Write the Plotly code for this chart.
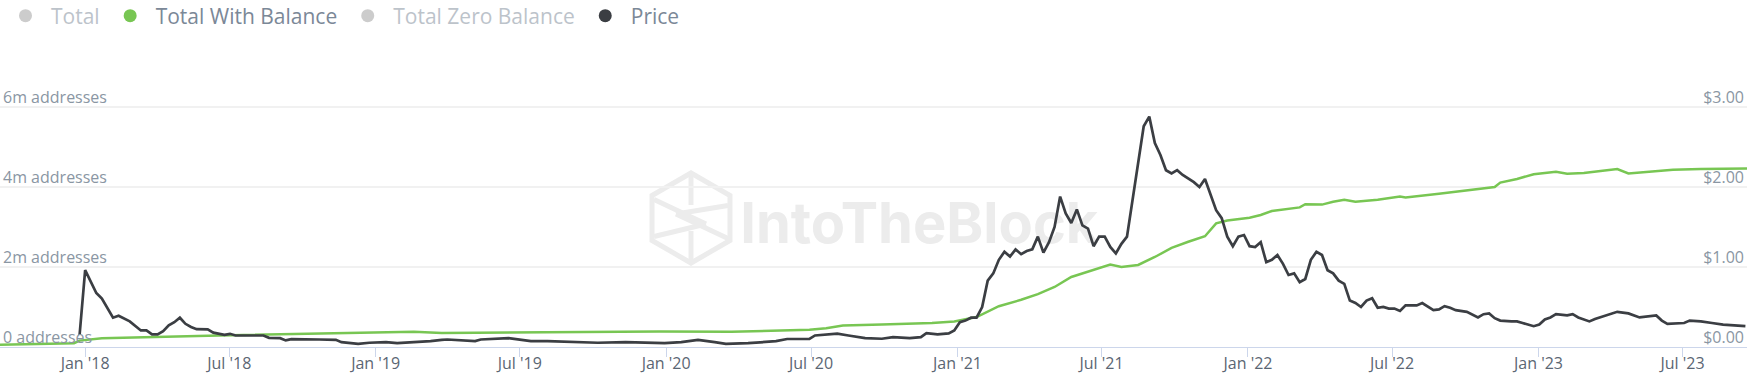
import math
import plotly.graph_objects as go

# ---------------- data ----------------
price_dates = [
    "2017-12-25", "2018-01-01", "2018-01-15", "2018-01-22", "2018-02-05", "2018-02-12", "2018-02-26",
    "2018-03-12", "2018-03-19", "2018-03-26", "2018-04-02", "2018-04-09", "2018-04-16", "2018-04-23",
    "2018-04-30", "2018-05-07", "2018-05-14", "2018-05-21", "2018-06-04", "2018-06-11", "2018-06-25",
    "2018-07-02", "2018-07-09", "2018-08-13", "2018-08-20", "2018-09-03", "2018-09-10", "2018-09-17",
    "2018-10-22", "2018-11-12", "2018-11-19", "2018-12-10", "2018-12-24", "2019-01-14", "2019-01-28",
    "2019-02-18", "2019-03-11", "2019-03-25", "2019-04-01", "2019-05-06", "2019-05-13", "2019-06-17",
    "2019-07-15", "2019-08-05", "2019-09-09", "2019-10-07", "2019-11-11", "2019-12-30", "2020-01-20",
    "2020-02-10", "2020-03-02", "2020-03-16", "2020-04-13", "2020-04-27", "2020-05-18", "2020-06-01",
    "2020-06-29", "2020-07-06", "2020-08-03", "2020-08-17", "2020-09-07", "2020-09-28", "2020-10-12",
    "2020-11-02", "2020-11-16", "2020-11-23", "2020-12-07", "2020-12-21", "2020-12-28", "2021-01-04",
    "2021-01-11", "2021-01-18", "2021-01-25", "2021-02-01", "2021-02-08", "2021-02-15", "2021-02-22",
    "2021-03-01", "2021-03-08", "2021-03-15", "2021-03-22", "2021-03-29", "2021-04-05", "2021-04-12",
    "2021-04-19", "2021-04-26", "2021-05-03", "2021-05-10", "2021-05-17", "2021-05-24", "2021-05-31",
    "2021-06-07", "2021-06-14", "2021-06-21", "2021-06-28", "2021-07-05", "2021-07-12", "2021-07-19",
    "2021-07-26", "2021-08-02", "2021-08-23", "2021-08-30", "2021-09-06", "2021-09-13", "2021-09-20",
    "2021-09-27", "2021-10-04", "2021-10-11", "2021-10-25", "2021-11-01", "2021-11-08", "2021-11-22",
    "2021-11-29", "2021-12-06", "2021-12-13", "2021-12-20", "2021-12-27", "2022-01-03", "2022-01-10",
    "2022-01-17", "2022-01-24", "2022-01-31", "2022-02-07", "2022-02-14", "2022-02-21", "2022-02-28",
    "2022-03-07", "2022-03-14", "2022-03-21", "2022-03-28", "2022-04-04", "2022-04-11", "2022-04-18",
    "2022-04-25", "2022-05-02", "2022-05-09", "2022-05-16", "2022-05-23", "2022-05-30", "2022-06-06",
    "2022-06-13", "2022-06-20", "2022-06-27", "2022-07-04", "2022-07-11", "2022-07-18", "2022-08-01",
    "2022-08-08", "2022-08-15", "2022-08-22", "2022-08-29", "2022-09-05", "2022-09-12", "2022-09-19",
    "2022-10-03", "2022-10-10", "2022-10-17", "2022-10-24", "2022-10-31", "2022-11-07", "2022-11-14",
    "2022-11-28", "2022-12-05", "2022-12-12", "2022-12-26", "2023-01-02", "2023-01-09", "2023-01-16",
    "2023-01-23", "2023-02-06", "2023-02-13", "2023-02-20", "2023-03-06", "2023-03-13", "2023-03-27",
    "2023-04-10", "2023-04-24", "2023-05-01", "2023-05-08", "2023-05-29", "2023-06-05", "2023-06-12",
    "2023-07-03", "2023-07-10", "2023-07-24", "2023-08-07", "2023-08-21", "2023-09-04", "2023-09-18",
]
price_values = [
    0.15, 0.96, 0.675, 0.605, 0.366, 0.39, 0.32,
    0.207, 0.207, 0.157, 0.157, 0.198, 0.27, 0.31,
    0.366, 0.29, 0.25, 0.223, 0.22, 0.18, 0.153,
    0.165, 0.144, 0.144, 0.115, 0.11, 0.082, 0.098,
    0.094, 0.09, 0.06, 0.04, 0.053, 0.06, 0.048,
    0.06, 0.073, 0.09, 0.094, 0.073, 0.094, 0.11,
    0.073, 0.073, 0.06, 0.053, 0.06, 0.048, 0.06,
    0.09, 0.06, 0.04, 0.048, 0.06, 0.073, 0.10,
    0.10, 0.144, 0.166, 0.144, 0.11, 0.103, 0.123,
    0.11, 0.123, 0.173, 0.157, 0.17, 0.207, 0.31,
    0.33, 0.366, 0.366, 0.50, 0.83, 0.92, 1.09,
    1.19, 1.13, 1.22, 1.16, 1.20, 1.22, 1.38,
    1.18, 1.31, 1.50, 1.88, 1.67, 1.55, 1.72,
    1.52, 1.48, 1.26, 1.38, 1.38, 1.25, 1.17,
    1.29, 1.38, 2.76, 2.88, 2.55, 2.40, 2.21,
    2.17, 2.21, 2.15, 2.06, 2.00, 2.10, 1.71,
    1.61, 1.38, 1.26, 1.38, 1.40, 1.26, 1.25,
    1.31, 1.06, 1.09, 1.15, 1.04, 0.90, 0.92,
    0.81, 0.85, 1.09, 1.19, 1.15, 0.96, 0.92,
    0.83, 0.79, 0.58, 0.55, 0.50, 0.58, 0.61,
    0.49, 0.50, 0.48, 0.48, 0.45, 0.52, 0.52,
    0.55, 0.51, 0.46, 0.47, 0.51, 0.49, 0.46,
    0.44, 0.41, 0.37, 0.41, 0.42, 0.36, 0.33,
    0.32, 0.32, 0.30, 0.26, 0.28, 0.345, 0.37,
    0.41, 0.395, 0.41, 0.37, 0.32, 0.35, 0.395,
    0.44, 0.42, 0.395, 0.37, 0.395, 0.33, 0.29,
    0.30, 0.33, 0.32, 0.30, 0.28, 0.27, 0.26,
]

balance_dates = [
    "2017-09-16", "2017-12-18", "2017-12-25", "2018-01-22", "2018-06-18", "2018-11-05", "2019-02-18",
    "2019-03-25", "2019-12-23", "2020-03-23", "2020-06-29", "2020-07-20", "2020-08-10", "2020-09-28",
    "2020-11-30", "2020-12-28", "2021-01-11", "2021-01-25", "2021-02-22", "2021-03-22", "2021-04-12",
    "2021-05-03", "2021-05-24", "2021-06-14", "2021-07-12", "2021-07-26", "2021-08-16", "2021-09-06",
    "2021-09-27", "2021-10-18", "2021-11-08", "2021-11-22", "2021-12-06", "2022-01-03", "2022-01-17",
    "2022-01-31", "2022-03-07", "2022-03-14", "2022-04-04", "2022-04-18", "2022-05-02", "2022-05-16",
    "2022-06-13", "2022-07-11", "2022-07-18", "2022-08-29", "2022-09-26", "2022-11-07", "2022-11-14",
    "2022-12-05", "2022-12-26", "2023-01-23", "2023-02-06", "2023-02-27", "2023-03-20", "2023-04-10",
    "2023-04-24", "2023-05-22", "2023-06-19", "2023-07-24", "2023-09-20",
]
balance_values_m = [
    0.055, 0.095, 0.16, 0.22, 0.29, 0.35, 0.38,
    0.35, 0.39, 0.38, 0.43, 0.47, 0.54, 0.56,
    0.60, 0.64, 0.69, 0.75, 1.02, 1.18, 1.32,
    1.50, 1.75, 1.88, 2.06, 2.00, 2.05, 2.25,
    2.48, 2.63, 2.77, 3.09, 3.16, 3.23, 3.30,
    3.40, 3.49, 3.57, 3.56, 3.63, 3.68, 3.63,
    3.68, 3.76, 3.74, 3.83, 3.90, 4.00, 4.11,
    4.20, 4.32, 4.38, 4.33, 4.35, 4.40, 4.45,
    4.34, 4.38, 4.43, 4.45, 4.46,
]

legend_names = ["Total", "Total With Balance", "Total Zero Balance", "Price"]
left_tick_values = [0, 2, 4, 6]
left_tick_labels = ["0 addresses", "2m addresses", "4m addresses", "6m addresses"]
right_tick_values = [0, 1, 2, 3]
right_tick_labels = ["$0.00", "$1.00", "$2.00", "$3.00"]
x_tick_values = ["2018-01-01", "2018-07-01", "2019-01-01", "2019-07-01", "2020-01-01", "2020-07-01",
                 "2021-01-01", "2021-07-01", "2022-01-01", "2022-07-01", "2023-01-01", "2023-07-01"]
x_tick_labels = ["Jan '18", "Jul '18", "Jan '19", "Jul '19", "Jan '20", "Jul '20",
                 "Jan '21", "Jul '21", "Jan '22", "Jul '22", "Jan '23", "Jul '23"]
watermark_text = "IntoTheBlock"

# ---------------- styling ----------------
W, H = 1749, 376
ML, MR, MT, MB = 0, 2, 70, 29
PX_PER_M = 40.0
Y_MAX = (H - MT - MB) / PX_PER_M
Y2_MAX = Y_MAX / 2
GREEN = "#78c653"
DARK = "#3b3e43"
FONT = "Open Sans"
X_START, X_END = "2017-09-16", "2023-09-20"
WM = "#ececec"

pw = W - ML - MR
ph = H - MT - MB


def px(x):
    return (x - ML) / pw


def py(y):
    return (H - MB - y) / ph


fig = go.Figure()

# watermark text (drawn first, beneath the data lines)
fig.add_trace(go.Scatter(
    x=["2020-11-14"], y=[2.96], mode="text", text=[watermark_text],
    textfont=dict(family="Inter", size=56, color=WM, weight="bold"),
    hoverinfo="skip", showlegend=False, yaxis="y",
))

fig.add_trace(go.Scatter(
    x=balance_dates, y=balance_values_m, mode="lines", name=legend_names[1],
    line=dict(color=GREEN, width=2.5), showlegend=False, legendgroup="twb", yaxis="y",
))
fig.add_trace(go.Scatter(
    x=price_dates, y=price_values, mode="lines", name=legend_names[3],
    line=dict(color=DARK, width=2.7), showlegend=False, legendgroup="price", yaxis="y2",
))

legend_colors = ["#9a9a9a", GREEN, "#9a9a9a", DARK]
legend_visible = ["legendonly", True, "legendonly", True]
groups = ["total", "twb", "tzb", "price"]
for name, col, vis, g in zip(legend_names, legend_colors, legend_visible, groups):
    fig.add_trace(go.Scatter(
        x=[None], y=[None], mode="markers", name=name, visible=vis, legendgroup=g,
        marker=dict(size=13, color=col, symbol="circle"), yaxis="y",
    ))

# watermark logo (hexagon cube outline)
cx, cy, R = 691, 218, 45
pts = [(cx + R * math.cos(math.radians(a)), cy + R * math.sin(math.radians(a)))
       for a in (-90, -30, 30, 90, 150, 210)]
path = "M " + " L ".join(f"{px(x):.5f},{py(y):.5f}" for x, y in pts) + " Z"
shapes = [dict(type="path", xref="paper", yref="paper", path=path,
               line=dict(color=WM, width=5), layer="below")]
inner = [((pts[5][0] + 2, pts[5][1] + 4), (cx + 15, cy + 6)),
         ((cx + 15, cy + 6), (pts[4][0] + 2, pts[4][1] - 4)),
         ((pts[1][0] - 2, pts[1][1] + 10), (cx - 15, cy - 4)),
         ((cx - 15, cy - 4), (pts[2][0] - 2, pts[2][1] - 2)),
         ((cx, cy - R), (cx, cy - 13)),
         ((cx, cy + 13), (cx, cy + R))]
for (x0, y0), (x1, y1) in inner:
    shapes.append(dict(type="line", xref="paper", yref="paper",
                       x0=px(x0), y0=py(y0), x1=px(x1), y1=py(y1),
                       line=dict(color=WM, width=5), layer="below"))

fig.update_layout(
    width=W, height=H,
    margin=dict(l=ML, r=MR, t=MT, b=MB, pad=0, autoexpand=False),
    paper_bgcolor="white", plot_bgcolor="white",
    font=dict(family=FONT, color="#8a96a3"),
    showlegend=True,
    legend=dict(
        orientation="h", xref="container", yref="container",
        x=0, y=1 - 16 / H, xanchor="left", yanchor="middle",
        itemwidth=41,
        font=dict(family=FONT, size=21, color="#7b8897"),
        itemclick=False, itemdoubleclick=False,
    ),
    shapes=shapes,
    xaxis=dict(
        type="date", range=[X_START, X_END], automargin=False,
        tickvals=x_tick_values, ticktext=x_tick_labels,
        showgrid=False, zeroline=False,
        showline=True, linecolor="#ccd6eb", linewidth=1,
        ticks="outside", ticklen=9, tickcolor="#ccd6eb", tickwidth=1,
        ticklabelstandoff=-7, ticklabeloverflow="allow",
        tickfont=dict(family=FONT, size=16, color="#5b6673"),
    ),
    yaxis=dict(
        range=[0, Y_MAX], automargin=False,
        tickvals=left_tick_values, ticktext=left_tick_labels,
        ticklabelposition="inside top", ticks="", ticklen=0, ticklabelshift=2,
        ticklabeloverflow="allow",
        showgrid=True, gridcolor="#f1f1f1", gridwidth=2, zeroline=False,
        tickfont=dict(family=FONT, size=16, color="#8a96a3"),
    ),
    yaxis2=dict(
        range=[0, Y2_MAX], automargin=False,
        tickvals=right_tick_values, ticktext=right_tick_labels,
        overlaying="y", side="right", anchor="x",
        ticklabelposition="inside top", ticks="", ticklen=0, ticklabelshift=2,
        ticklabeloverflow="allow",
        showgrid=False, zeroline=False,
        tickfont=dict(family=FONT, size=16, color="#8a96a3"),
    ),
)

fig.write_html(
    "out.html",
    config={"displayModeBar": False},
    post_script="document.body.style.margin='0';document.body.style.overflow='hidden';",
)
